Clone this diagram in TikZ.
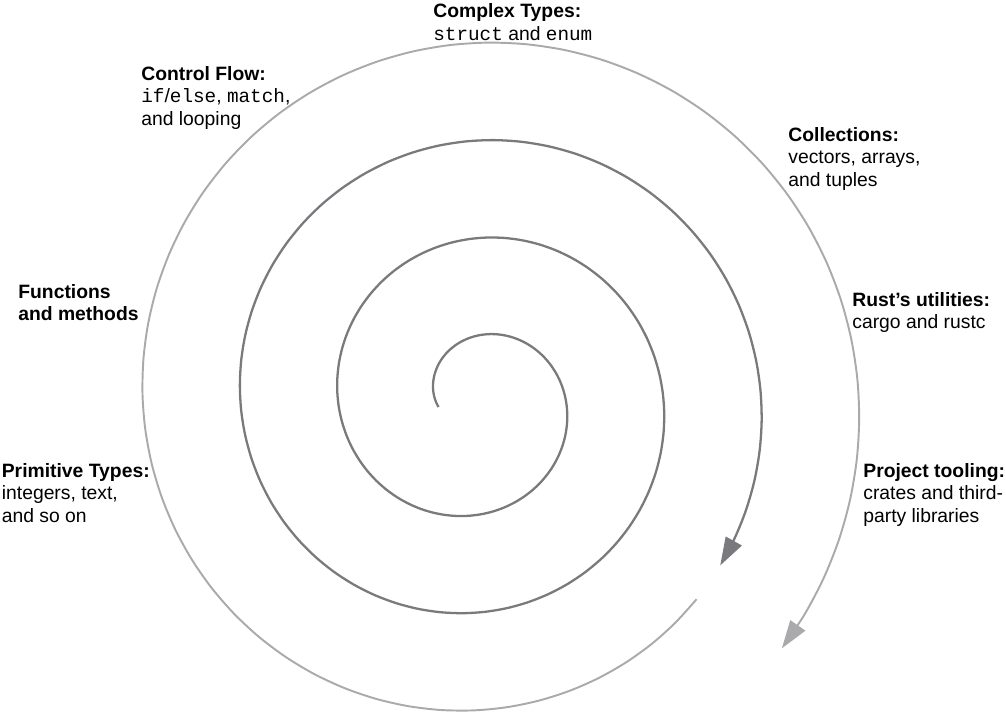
\documentclass[tikz,border=0pt]{standalone}
\usepackage{fontspec}
\setmainfont{Liberation Sans}
\setmonofont{Liberation Mono}
\usepackage{tikz}
\usetikzlibrary{arrows.meta}
\definecolor{spiraldark}{RGB}{122,122,126}
\definecolor{spirallight}{RGB}{170,170,172}

\begin{document}
\begin{tikzpicture}[
            x = 0.02cm, y = -0.02cm, % one unit is one pixel, y goes down
            > = {Triangle[length=0.56cm, width=0.36cm]}, % arrow head style
            font = \fontsize{11}{12.8}\selectfont
        ]

        \tikzstyle{topic}=[
            anchor = north west,
            inner sep = 0pt,
            align = left
        ]

        \useasboundingbox (0,0) rectangle (1006,714);

        % dark spiral, from the middle
        \draw[spiraldark, line width = 1.3pt, ->]
            plot[smooth, domain=171:1114, samples=158]
            ({476.4 + (0.2712*\x - 8.04)*cos(\x)}, {401 + (0.2712*\x - 8.04)*sin(\x)});

        % light spiral, last turn
        \draw[spirallight, line width = 1.1pt, ->]
            plot[smooth, domain=1122:1479, samples=60]
            ({476.4 + (0.2712*\x - 8.04)*cos(\x)}, {401 + (0.2712*\x - 8.04)*sin(\x)});

        % topics, left side
        \node[topic] (FM) at (18,284) {\textbf{Functions}\\\textbf{and methods}};
        \node[topic] (PT) at (1.5,463) {\textbf{Primitive Types:}\\integers, text,\\and so on};
        \node[topic] (CF) at (141,66) {\textbf{Control Flow:}\\\texttt{if}/\texttt{else}, \texttt{match},\\and looping};

        % topics, top and right side
        \node[topic] (CT) at (433,3.5) {\textbf{Complex Types:}\\\texttt{struct} and \texttt{enum}};
        \node[topic] (CO) at (788,127) {\textbf{Collections:}\\vectors, arrays,\\and tuples};
        \node[topic] (RU) at (852,292) {\textbf{Rust’s utilities:}\\cargo and rustc};
        \node[topic] (PJ) at (863,463) {\textbf{Project tooling:}\\crates and third-\\party libraries};

\end{tikzpicture}
\end{document}
